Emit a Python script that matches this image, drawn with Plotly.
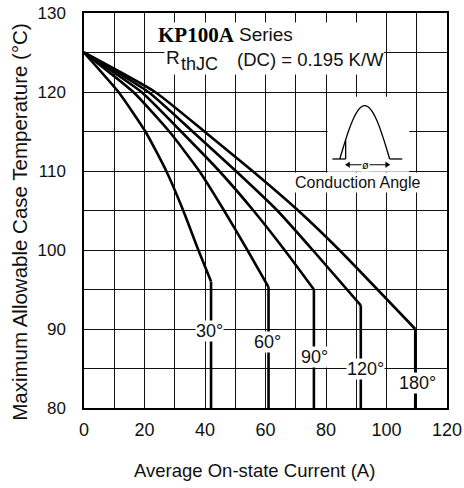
import numpy as np
import plotly.graph_objects as go

# ---- data ----
angles = ["30°", "60°", "90°", "120°", "180°"]
cur_30 = [0, 11.4, 20.3, 27.2, 32.8, 37.8, 42.0, 42.0]
tc_30 = [125, 120, 115, 110, 105, 100, 96.0, 80]
cur_60 = [0, 16.3, 28.2, 38.1, 46.3, 54.0, 61.0, 61.0]
tc_60 = [125, 120, 115, 110, 105, 100, 95.3, 80]
cur_90 = [0, 19.0, 32.1, 44.7, 56.0, 66.3, 76.0, 76.0]
tc_90 = [125, 120, 115, 110, 105, 100, 95.0, 80]
cur_120 = [0, 21.3, 35.9, 50.2, 63.9, 75.6, 91.5, 91.5]
tc_120 = [125, 120, 115, 110, 105, 100, 93.0, 80]
cur_180 = [0, 23.5, 39.8, 55.7, 70.8, 84.4, 109.5, 109.5]
tc_180 = [125, 120, 115, 110, 105, 100, 90.0, 80]

label_x = [41.5, 60.7, 76.1, 93.1, 110.2]
label_y = [89.8, 88.4, 86.5, 85.0, 83.2]

x_ticks = [0, 20, 40, 60, 80, 100, 120]
y_ticks = [80, 90, 100, 110, 120, 130]

FONT = "Liberation Sans, Arial, sans-serif"
TXT = "#111111"

fig = go.Figure()
series = [(cur_30, tc_30), (cur_60, tc_60), (cur_90, tc_90), (cur_120, tc_120), (cur_180, tc_180)]
for (xs, ys), name in zip(series, angles):
    # sloped part (smooth) up to the knee, then the vertical drop
    fig.add_trace(go.Scatter(x=xs[:-1], y=ys[:-1], mode="lines", name=name,
                             line=dict(color="black", width=2.6, shape="spline", smoothing=0.5),
                             showlegend=False, hoverinfo="skip"))
    fig.add_trace(go.Scatter(x=xs[-2:], y=ys[-2:], mode="lines", name=name,
                             line=dict(color="black", width=2.6),
                             showlegend=False, hoverinfo="skip"))

# angle labels
for lx, ly, t in zip(label_x, label_y, angles):
    fig.add_annotation(x=lx, y=ly, xref="x", yref="y", text=t, showarrow=False,
                       font=dict(family=FONT, size=18, color=TXT), bgcolor="white",
                       borderpad=0)

# white boxes covering grid (behind traces)
fig.add_shape(type="rect", xref="x", yref="y", x0=26.6, x1=99.2, y0=122.2, y1=128.8,
              fillcolor="white", line=dict(width=0), layer="between")
fig.add_shape(type="rect", xref="x", yref="y", x0=80.5, x1=107.5, y0=109.9, y1=119.4,
              fillcolor="white", line=dict(width=0), layer="between")

# title texts
fig.add_annotation(x=23.9, y=127.2, xref="x", yref="y", xanchor="left", yanchor="middle",
                   text="<b>KP100A</b>", showarrow=False,
                   font=dict(family="Liberation Serif, Times New Roman, serif", size=21, color="black"))
fig.add_annotation(x=50.7, y=127.3, xref="x", yref="y", xanchor="left", yanchor="middle",
                   text="Series", showarrow=False, font=dict(family=FONT, size=19, color=TXT))
fig.add_annotation(x=26.3, y=124.4, xref="x", yref="y", xanchor="left", yanchor="middle",
                   text="R", showarrow=False, font=dict(family=FONT, size=19, color=TXT))
fig.add_annotation(x=31.5, y=123.5, xref="x", yref="y", xanchor="left", yanchor="middle",
                   text="thJC", showarrow=False, font=dict(family=FONT, size=18, color=TXT))
fig.add_annotation(x=50.0, y=124.15, xref="x", yref="y", xanchor="left", yanchor="middle",
                   text="(DC) = 0.195 K/W", showarrow=False, font=dict(family=FONT, size=18.5, color=TXT))

# conduction angle inset glyph
hx0, hx1, hpk, hbase = 84.55, 101.05, 118.27, 111.52
t = np.linspace(0, np.pi, 40)
hx = hx0 + (hx1 - hx0) * t / np.pi
hy = hbase + (hpk - hbase) * np.sin(t)
path = "M " + " L ".join(f"{a:.3f},{b:.3f}" for a, b in zip(hx, hy))
fig.add_shape(type="path", xref="x", yref="y", path=path, line=dict(color="black", width=1.3))
fire_x = 86.5
fire_y = hbase + (hpk - hbase) * np.sin(np.pi * (fire_x - hx0) / (hx1 - hx0))
fig.add_shape(type="line", xref="x", yref="y", x0=fire_x, x1=fire_x, y0=hbase, y1=fire_y,
              line=dict(color="black", width=1.3))
fig.add_shape(type="line", xref="x", yref="y", x0=82.1, x1=fire_x, y0=hbase, y1=hbase,
              line=dict(color="black", width=1.3))
fig.add_shape(type="line", xref="x", yref="y", x0=hx1, x1=105.2, y0=hbase, y1=hbase,
              line=dict(color="black", width=1.3))
# arrow of the conduction angle
ay_ = 110.8
fig.add_shape(type="line", xref="x", yref="y", x0=fire_x, x1=hx1, y0=ay_, y1=ay_,
              line=dict(color="black", width=1.1))
fig.add_shape(type="path", xref="x", yref="y",
              path=f"M {fire_x},{ay_} L {fire_x+1.3},{ay_+0.35} L {fire_x+1.3},{ay_-0.35} Z",
              fillcolor="black", line=dict(color="black", width=0.5))
fig.add_shape(type="path", xref="x", yref="y",
              path=f"M {hx1},{ay_} L {hx1-1.3},{ay_+0.35} L {hx1-1.3},{ay_-0.35} Z",
              fillcolor="black", line=dict(color="black", width=0.5))
fig.add_annotation(x=93.1, y=ay_, xref="x", yref="y", text="ø", showarrow=False,
                   font=dict(family=FONT, size=11, color="black"), bgcolor="white", borderpad=0)
fig.add_annotation(x=90.5, y=108.6, xref="x", yref="y", text="Conduction Angle", showarrow=False,
                   font=dict(family=FONT, size=16, color=TXT), bgcolor="white", borderpad=1)

# axis titles
fig.add_annotation(x=0.471, y=-0.157, xref="paper", yref="paper", xanchor="center", yanchor="middle",
                   text="Average On-state Current (A)",
                   showarrow=False, font=dict(family=FONT, size=18.5, color=TXT))
fig.add_annotation(x=-0.178, y=0.470, xref="paper", yref="paper", xanchor="center", yanchor="middle",
                   textangle=-90, text="Maximum Allowable Case Temperature (°C)",
                   showarrow=False, font=dict(family=FONT, size=20.5, color=TXT))

GRID = "#111111"
fig.update_xaxes(range=[0, 120], tickvals=x_ticks, ticktext=[str(v) for v in x_ticks],
                 showgrid=True, gridcolor=GRID, gridwidth=1.3,
                 minor=dict(dtick=10, tick0=0, showgrid=True, gridcolor=GRID, gridwidth=1.3),
                 showline=True, linecolor="black", linewidth=1.5, mirror=True,
                 ticks="", ticklabelstandoff=5, zeroline=False, automargin=False,
                 tickfont=dict(family=FONT, size=18, color=TXT))
fig.update_yaxes(range=[80, 130], tickvals=y_ticks, ticktext=[str(v) for v in y_ticks],
                 showgrid=True, gridcolor=GRID, gridwidth=1.3,
                 minor=dict(dtick=5, tick0=80, showgrid=True, gridcolor=GRID, gridwidth=1.3),
                 showline=True, linecolor="black", linewidth=1.5, mirror=True,
                 ticks="", ticklabelstandoff=13, zeroline=False, automargin=False,
                 tickfont=dict(family=FONT, size=17, color=TXT))

fig.update_layout(width=464, height=488, margin=dict(l=84, r=17, t=13, b=80, autoexpand=False),
                  paper_bgcolor="white", plot_bgcolor="white", showlegend=False)

fig.write_html("out.html")
